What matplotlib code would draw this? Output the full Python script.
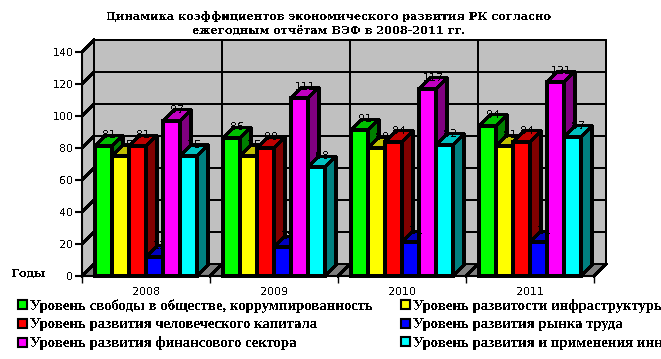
import matplotlib
matplotlib.use('Agg')
import matplotlib.pyplot as plt
from matplotlib.patches import Patch

plt.rcParams['text.antialiased'] = False

years = ['2008', '2009', '2010', '2011']
names = ['Уровень свободы в обществе, коррумпированность',
         'Уровень развитости инфраструктуры',
         'Уровень развития человеческого капитала',
         'Уровень развития рынка труда',
         'Уровень развития финансового сектора',
         'Уровень развития и применения инноваций']
values = [[81, 86, 91, 94],
          [75, 75, 80, 81],
          [81, 80, 84, 84],
          [12, 18, 21, 21],
          [97, 111, 117, 121],
          [75, 68, 82, 87]]
front = ['#00FF00', '#FFFF00', '#FF0000', '#0000FF', '#FF00FF', '#00FFFF']
top = ['#00C000', '#C0C000', '#C00000', '#0000C0', '#C000C0', '#00C0C0']
side = ['#008000', '#808000', '#800000', '#000080', '#800080', '#008080']
yticks = [0, 20, 40, 60, 80, 100, 120, 140]

W, H = 661, 359
fig = plt.figure(figsize=(W / 100, H / 100), dpi=100, facecolor='white')
ax = fig.add_axes([82 / W, 1 - 276 / H, 512 / W, 224 / H])
ax.set_xlim(0, 4)
ax.set_ylim(0, 140)
ax.patch.set_visible(False)

# wall depth and bar depth, in data units
dx = 12 / 128
dy = 12 * 140 / 224
bx = 11 / 128
by = 11 * 140 / 224
bw = 17 / 128
lw = 1.5
thin = 1.1


def shape(xs, ys, color, z, width=lw):
    ax.fill(xs, ys, facecolor=color, edgecolor='black', lw=width, zorder=z,
            clip_on=False, antialiased=False)


def line(xs, ys, z=2):
    ax.plot(xs, ys, color='black', lw=thin, zorder=z, clip_on=False,
            antialiased=False)


# walls and floor
shape([dx, 4 + dx, 4 + dx, dx], [dy, dy, 140 + dy, 140 + dy], '#C0C0C0', 1, thin)
shape([0, dx, dx, 0], [0, dy, 140 + dy, 140], '#C0C0C0', 1, thin)
shape([0, 4, 4 + dx, dx], [0, 0, dy, dy], '#808080', 1, thin)
for t in yticks[1:-1]:
    line([dx, 4 + dx], [t + dy, t + dy])
for t in yticks:
    line([0, dx], [t, t + dy])
for i in range(1, 5):
    line([i + dx, i + dx], [dy, 140 + dy])
    line([i, i + dx], [0, dy])

# bars, left to right so each one covers the side of the previous one
z = 3
for i in range(len(years)):
    for j in range(len(names)):
        v = values[j][i]
        x0 = i + (j - 3) * bw + 0.5
        x1 = x0 + bw
        shape([x1, x1 + bx, x1 + bx, x1], [0, by, v + by, v], side[j], z)
        shape([x0, x1, x1 + bx, x0 + bx], [v, v, v + by, v + by], top[j], z)
        ax.bar(x0, v, bw, align='edge', color=front[j], edgecolor='black',
               lw=lw, zorder=z, clip_on=False, antialiased=False)
        z += 1

# labels go over all the bars
for i in range(len(years)):
    for j in range(len(names)):
        v = values[j][i]
        x0 = i + (j - 3) * bw + 0.5
        ax.text(x0 + bw / 2 + bx / 2, v + by, str(v), ha='center', va='center',
                fontsize=8, color='black', zorder=z)

for s in ['top', 'right']:
    ax.spines[s].set_visible(False)
for s in ['left', 'bottom']:
    ax.spines[s].set_linewidth(lw)
    ax.spines[s].set_zorder(2)

ax.set_yticks(yticks)
ax.set_xticks(range(5))
ax.set_xticklabels([])
ax.set_xticks([i + 0.5 for i in range(4)], labels=years, minor=True)
ax.tick_params(axis='y', length=5, width=lw, labelsize=8, pad=1)
ax.tick_params(axis='x', which='major', length=5, width=1)
ax.tick_params(axis='x', which='minor', length=0, labelsize=8, pad=8)

fig.text(329 / W, 1 - 16 / H, 'Динамика коэффициентов экономического развития РК согласно',
         ha='center', va='center', family='DejaVu Serif', weight='bold', fontsize=8.15)
fig.text(329 / W, 1 - 30 / H, 'ежегодным отчётам ВЭФ в 2008-2011 гг.',
         ha='center', va='center', family='DejaVu Serif', weight='bold', fontsize=8.15)
fig.text(11 / W, 1 - 273 / H, 'Годы', ha='left', va='center',
         family='DejaVu Serif', weight='bold', fontsize=8.15)

order = [0, 2, 4, 1, 3, 5]
handles = [Patch(facecolor=front[k], edgecolor='black', lw=lw) for k in order]
fig.legend(handles, [names[k] for k in order], ncol=2, loc='upper left',
           bbox_to_anchor=(18 / W, 1 - 299 / H), bbox_transform=fig.transFigure,
           frameon=False, handlelength=0.6, handleheight=0.6, handletextpad=0.2,
           labelspacing=0.37, columnspacing=1.95, borderpad=0, borderaxespad=0,
           prop={'family': 'Liberation Serif', 'weight': 'bold', 'size': 10.6})

fig.savefig('out.png', dpi=100)
